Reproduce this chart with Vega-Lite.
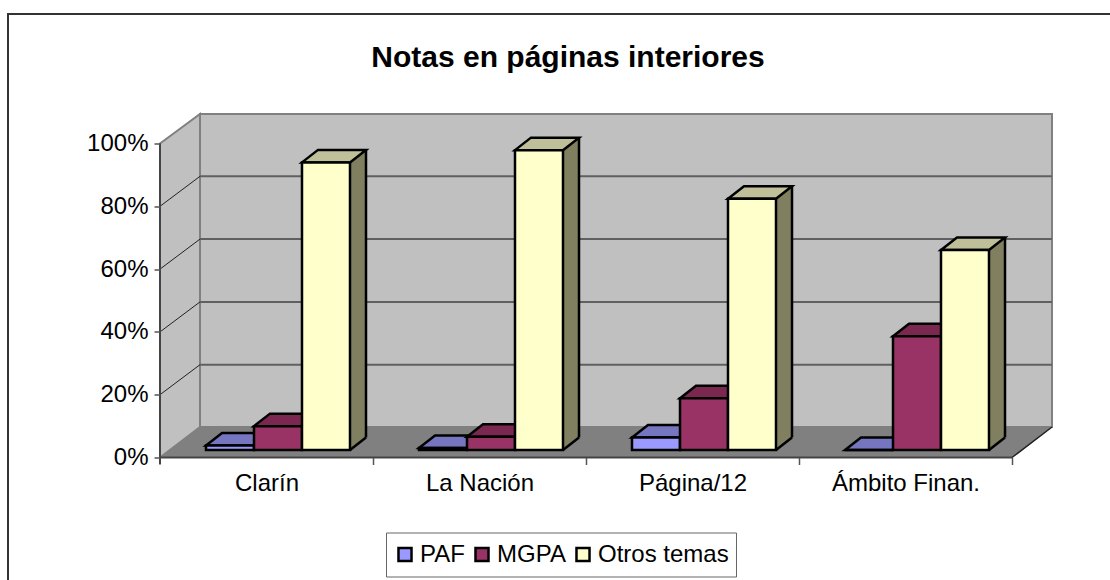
{
"$schema":"https://vega.github.io/schema/vega-lite/v6.json",
"width":852,"height":314,
"autosize":{"type":"none"},
"padding":{"left":160,"top":143.5,"right":98,"bottom":122.5},
"background":"white",
"title":{"text":"Notas en páginas interiores","font":"Liberation Sans","fontSize":30,"fontWeight":"bold","color":"black","anchor":"middle","frame":"group","dx":-18,"offset":2,"dy":65},
"config":{"view":{"stroke":null},"font":"Liberation Sans"},
"datasets":{
"notas":[
{"medio":"Clarín","tema":"PAF","pct":0.014},
{"medio":"Clarín","tema":"MGPA","pct":0.076},
{"medio":"Clarín","tema":"Otros temas","pct":0.916},
{"medio":"La Nación","tema":"PAF","pct":0.006},
{"medio":"La Nación","tema":"MGPA","pct":0.042},
{"medio":"La Nación","tema":"Otros temas","pct":0.955},
{"medio":"Página/12","tema":"PAF","pct":0.04},
{"medio":"Página/12","tema":"MGPA","pct":0.165},
{"medio":"Página/12","tema":"Otros temas","pct":0.8},
{"medio":"Ámbito Finan.","tema":"PAF","pct":0.0},
{"medio":"Ámbito Finan.","tema":"MGPA","pct":0.362},
{"medio":"Ámbito Finan.","tema":"Otros temas","pct":0.637}
],
"grid":[{"g":0},{"g":0.2},{"g":0.4},{"g":0.6},{"g":0.8},{"g":1}]
},
"data":{"name":"notas"},
"encoding":{
"x":{"field":"medio","type":"nominal","sort":["Clarín","La Nación","Página/12","Ámbito Finan."],"scale":{"range":[11.5,863.5],"paddingInner":0.324,"paddingOuter":0.162},"axis":{"title":null,"labelAngle":0,"labelFont":"Liberation Sans","labelFontSize":24,"labelColor":"black","labelPadding":7,"tickOffset":95,"labelOffset":-106.5,"tickSize":7,"tickColor":"#555555","tickWidth":1.5,"domain":false,"zindex":1}},
"xOffset":{"field":"tema","type":"nominal","sort":["PAF","MGPA","Otros temas"],"scale":{"domain":["PAF","MGPA","Otros temas"],"paddingInner":0,"paddingOuter":0}},
"y":{"field":"pct","type":"quantitative","stack":null,"scale":{"domain":[0,1],"nice":false,"range":[306.5,-7.5]},"axis":{"title":null,"values":[0,0.2,0.4,0.6,0.8,1],"format":".0%","grid":false,"labelFont":"Liberation Sans","labelFontSize":24,"labelColor":"black","labelPadding":6,"tickOffset":7.5,"tickSize":6,"tickColor":"#555555","tickWidth":1.5,"domain":false,"zindex":1}}
},
"layer":[
{"data":{"name":"grid"},"transform":[{"filter":"datum.g==0"}],
 "mark":{"type":"point","filled":true,"opacity":1,"size":4,"fill":"#C0C0C0","stroke":"#808080","strokeWidth":2,"shape":"M-386,-336 L466,-336 L466,-23 L-386,-23 Z M-426,-306.5 L-386,-336 L-386,-23 L-426,7.5 Z"},
 "encoding":{"x":null,"xOffset":null,"y":{"field":"g","type":"quantitative"}}},
{"data":{"name":"grid"},"transform":[{"filter":"datum.g==0"}],
 "mark":{"type":"point","filled":true,"opacity":1,"size":4,"fill":"#808080","stroke":"#808080","strokeWidth":1,"shape":"M-426,7.5 L426,7.5 L466,-23 L-386,-23 Z"},
 "encoding":{"x":null,"xOffset":null,"y":{"field":"g","type":"quantitative"}}},
{"data":{"name":"grid"},"transform":[{"filter":"datum.g>0 && datum.g<1"}],
 "mark":{"type":"point","filled":false,"opacity":1,"size":4,"stroke":"#606060","strokeWidth":2,"shape":"M-386,-22.5 L466,-22.5"},
 "encoding":{"x":null,"xOffset":null,"y":{"field":"g","type":"quantitative"}}},
{"data":{"name":"grid"},"transform":[{"filter":"datum.g>0 && datum.g<1"}],
 "mark":{"type":"point","filled":false,"opacity":1,"size":4,"stroke":"#222222","strokeWidth":1,"shape":"M-426,7.5 L-386,-22.5"},
 "encoding":{"x":null,"xOffset":null,"y":{"field":"g","type":"quantitative"}}},
{"data":{"name":"grid"},"transform":[{"filter":"datum.g==0"}],
 "mark":{"type":"point","filled":false,"opacity":1,"size":4,"stroke":"#333333","strokeWidth":2,"shape":"M-578,150 L-578,-436 L524,-436"},
 "encoding":{"x":null,"xOffset":null,"y":{"field":"g","type":"quantitative"}}},
{"data":{"name":"grid"},"transform":[{"filter":"datum.g==0"}],
 "mark":{"type":"point","filled":false,"opacity":1,"size":4,"stroke":"#222222","strokeWidth":1.5,"shape":"M426,7.5 L466,-23"},
 "encoding":{"x":null,"xOffset":null,"y":{"field":"g","type":"quantitative"}}},
{"data":{"name":"grid"},"transform":[{"filter":"datum.g==0"}],
 "mark":{"type":"point","filled":false,"opacity":1,"size":4,"stroke":"#444444","strokeWidth":2,"shape":"M-426,-306.5 L-426,7.5 L426,7.5 M-426,7.5 L-426,14.5"},
 "encoding":{"x":null,"xOffset":null,"y":{"field":"g","type":"quantitative"}}},
{"transform":[{"filter":"datum.tema=='Otros temas'"}],
 "mark":{"type":"rule","stroke":"#808060","strokeWidth":16,"yOffset":-12.5},
 "encoding":{"y2":{"datum":0.04},"xOffset":{"value":152}}},
{"transform":[{"filter":"datum.tema=='Otros temas'"}],
 "mark":{"type":"rule","stroke":"black","strokeWidth":2.5,"yOffset":-12.5},
 "encoding":{"y2":{"datum":0.04},"xOffset":{"value":160}}},
{"transform":[{"filter":"datum.tema=='Otros temas'"}],
 "mark":{"type":"point","filled":true,"opacity":1,"size":4,"fill":"#808060","strokeWidth":0,"shape":"M24,0 L40,-12.5 L24,-12.5 Z"},
 "encoding":{"y":{"datum":0,"type":"quantitative"}}},
{"transform":[{"filter":"datum.tema=='Otros temas'"}],
 "mark":{"type":"point","filled":false,"opacity":1,"size":4,"stroke":"black","strokeWidth":2.5,"shape":"M24,0 L40,-12.5"},
 "encoding":{"y":{"datum":0,"type":"quantitative"}}},
{"transform":[{"filter":"datum.tema=='PAF'"}],
 "mark":{"type":"point","filled":true,"opacity":1,"size":4,"fill":"#7676C0","stroke":"black","strokeWidth":2.5,"shape":"M-24,0 L24,0 L40,-12.5 L-8,-12.5 Z"}},
{"transform":[{"filter":"datum.tema=='MGPA'"}],
 "mark":{"type":"point","filled":true,"opacity":1,"size":4,"fill":"#7A2850","stroke":"black","strokeWidth":2.5,"shape":"M-24,0 L24,0 L40,-12.5 L-8,-12.5 Z"}},
{"transform":[{"filter":"datum.tema=='Otros temas'"}],
 "mark":{"type":"point","filled":true,"opacity":1,"size":4,"fill":"#BFBF99","stroke":"black","strokeWidth":2.5,"shape":"M-24,0 L24,0 L40,-12.5 L-8,-12.5 Z"}},
{"mark":{"type":"bar","stroke":"black","strokeWidth":2.5},
 "encoding":{"color":{"field":"tema","type":"nominal","scale":{"domain":["PAF","MGPA","Otros temas"],"range":["#9999FF","#993366","#FFFFCC"]},
  "legend":{"title":null,"orient":"none","legendX":226,"legendY":389,"direction":"horizontal","columns":3,"symbolType":"square","symbolSize":170,"symbolStrokeColor":"black","symbolStrokeWidth":2.5,"symbolOpacity":1,"labelFont":"Liberation Sans","labelFontSize":24,"labelColor":"black","labelOffset":3,"columnPadding":5,"clipHeight":30,"strokeColor":"#666666","fillColor":"white","padding":7}}}}
]
}
